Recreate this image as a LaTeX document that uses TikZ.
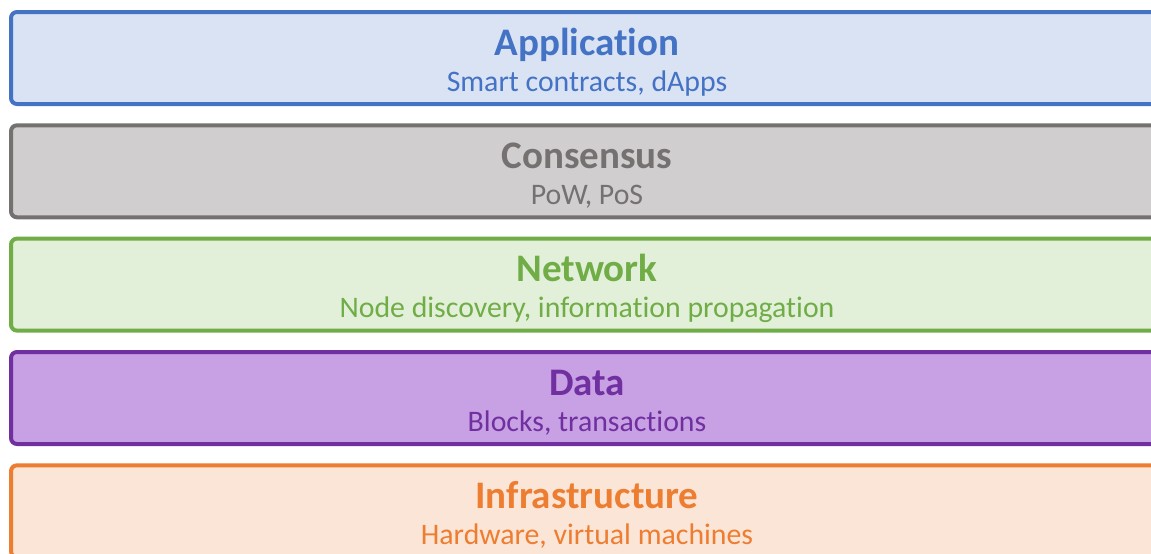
\documentclass[tikz,border=0pt]{standalone}
\usepackage{fontspec}
\setmainfont[Ligatures=NoCommon]{Carlito}
\usepackage{tikz}
\usetikzlibrary{positioning}

\definecolor{appline}{HTML}{4472C4}
\definecolor{appfill}{HTML}{DAE3F3}
\definecolor{conline}{HTML}{767171}
\definecolor{confill}{HTML}{D0CECE}
\definecolor{netline}{HTML}{70AD47}
\definecolor{netfill}{HTML}{E2F0D9}
\definecolor{datline}{HTML}{7030A0}
\definecolor{datfill}{HTML}{C8A0E4}
\definecolor{infline}{HTML}{ED7D31}
\definecolor{inffill}{HTML}{FBE5D6}

\tikzset{
    layer/.style={shape=rectangle,rounded corners=6pt,line width=4pt,minimum width=1152pt,minimum height=92pt,inner sep=0pt},
    title/.style={anchor=base,font=\fontsize{39}{44}\selectfont\bfseries,inner sep=0pt},
    subtitle/.style={anchor=base,font=\fontsize{29.8}{34}\selectfont,inner sep=0pt}
}

\begin{document}
\begin{tikzpicture}[x=1pt,y=-1pt]
    \useasboundingbox (0,0) rectangle (1151,554);
    \clip (0,0) rectangle (1151,554);
    \node[layer,draw=appline,fill=appfill] (app) at (587,58) {};
    \node[layer,draw=conline,fill=confill] (con) at (587,171.3) {};
    \node[layer,draw=netline,fill=netfill] (net) at (587,284.6) {};
    \node[layer,draw=datline,fill=datfill] (dat) at (587,398) {};
    \node[layer,draw=infline,fill=inffill] (inf) at (587,511.3) {};
    \node[title,text=appline] (apptitle) at (587,55) {Application};
    \node[subtitle,text=appline] (appsub) at (587,91) {Smart contracts, dApps};
    \node[title,text=conline] (contitle) at (587,168.3) {Consensus};
    \node[subtitle,text=conline] (consub) at (587,204.3) {PoW, PoS};
    \node[title,text=netline] (nettitle) at (587,281.6) {Network};
    \node[subtitle,text=netline] (netsub) at (587,317.6) {Node discovery, information propagation};
    \node[title,text=datline] (dattitle) at (587,395) {Data};
    \node[subtitle,text=datline] (datsub) at (587,431) {Blocks, transactions};
    \node[title,text=infline] (inftitle) at (587,508.3) {Infrastructure};
    \node[subtitle,text=infline] (infsub) at (587,544.3) {Hardware, virtual machines};
\end{tikzpicture}
\end{document}
